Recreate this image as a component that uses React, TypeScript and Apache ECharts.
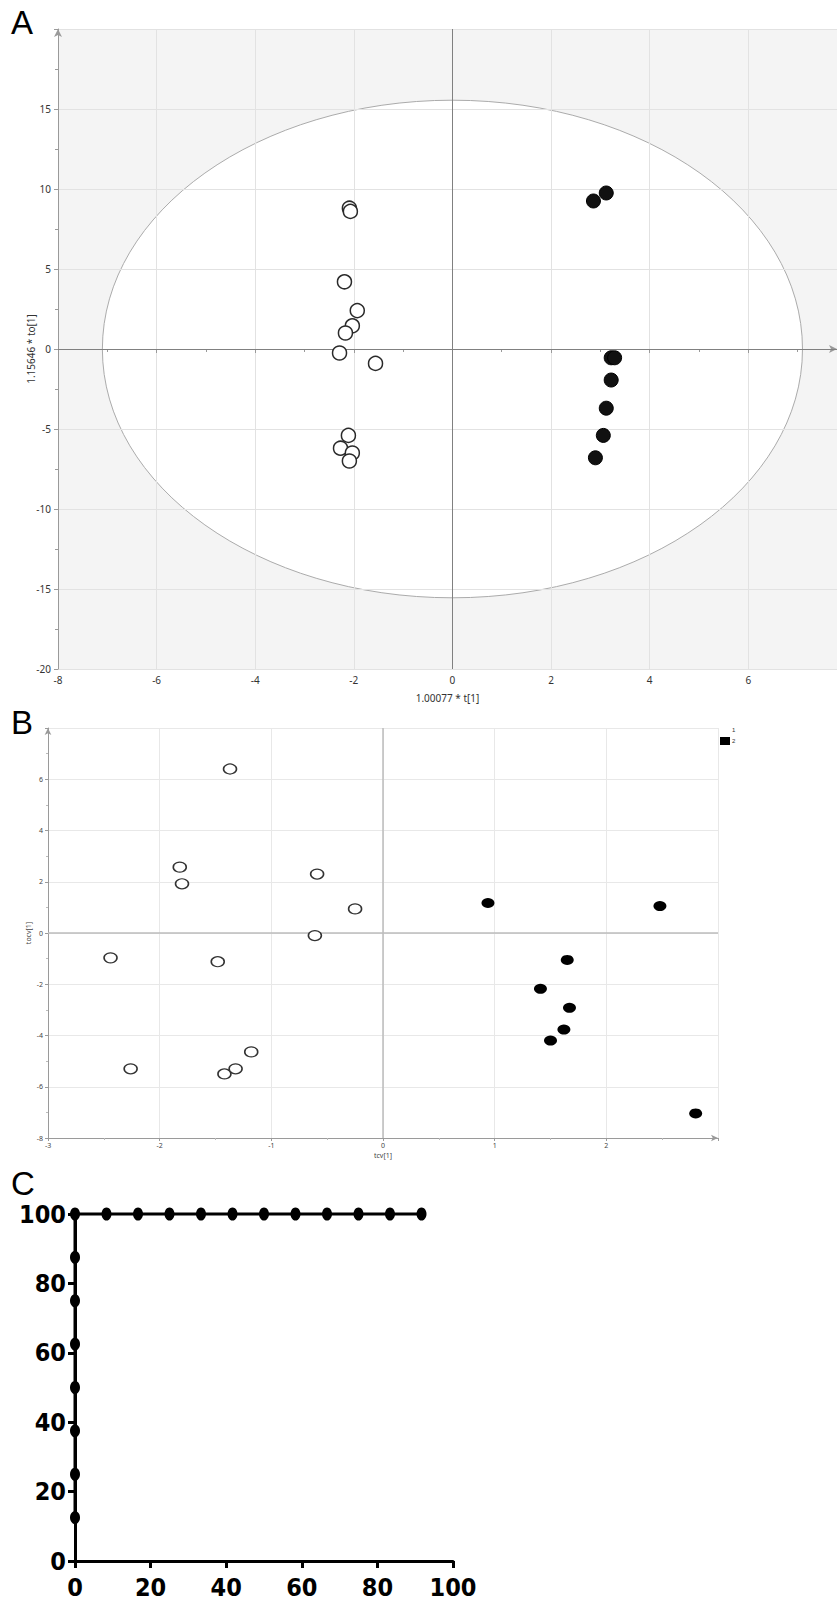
import React, { useEffect, useRef } from 'react';
import * as echarts from 'echarts';

// Panel A: OPLS-DA score plot
const A_OPEN_X = [-2.09, -2.07, -2.19, -1.93, -2.03, -2.17, -2.29, -1.56, -2.11, -2.27, -2.03, -2.09];
const A_OPEN_Y = [8.8, 8.6, 4.2, 2.4, 1.45, 1.0, -0.25, -0.9, -5.4, -6.2, -6.5, -7.0];
const A_FILLED_X = [3.12, 2.86, 3.22, 3.29, 3.22, 3.12, 3.06, 2.9];
const A_FILLED_Y = [9.75, 9.25, -0.55, -0.55, -1.94, -3.7, -5.4, -6.8];
const A_T2_ELLIPSE = [0, 0, 7.1, 15.55]; // centre x, centre y, semi-axis x, semi-axis y
const A_X_NAME = '1.00077 * t[1]';
const A_Y_NAME = '1.15646 * to[1]';

// Panel B: cross-validated score plot
const B_OPEN_X = [-1.37, -1.82, -1.8, -0.59, -0.25, -0.61, -2.44, -1.48, -1.18, -2.26, -1.42, -1.32];
const B_OPEN_Y = [6.4, 2.57, 1.92, 2.3, 0.94, -0.1, -0.97, -1.12, -4.64, -5.3, -5.5, -5.3];
const B_FILLED_X = [0.94, 2.48, 1.65, 1.41, 1.67, 1.62, 1.5, 2.8];
const B_FILLED_Y = [1.17, 1.05, -1.05, -2.18, -2.92, -3.77, -4.2, -7.04];
const B_X_NAME = 'tcv[1]';
const B_Y_NAME = 'tocv[1]';
const B_LEGEND = ['1', '2'];

// Panel C: ROC curve
const C_FPR = [0, 0, 0, 0, 0, 0, 0, 0, 8.33, 16.67, 25, 33.33, 41.67, 50, 58.33, 66.67, 75, 83.33, 91.67];
const C_TPR = [12.5, 25, 37.5, 50, 62.5, 75, 87.5, 100, 100, 100, 100, 100, 100, 100, 100, 100, 100, 100, 100];

const PANEL_LABELS = ['A', 'B', 'C'];

const zip = (xs: number[], ys: number[]) => xs.map((x, i) => [x, ys[i]]);

export default function App() {
  const ref = useRef<HTMLDivElement>(null);

  useEffect(() => {
    if (!ref.current) return;
    const chart = echarts.init(ref.current, undefined, { renderer: 'svg' });

    const labelFont = { fontFamily: 'Noto Sans, DejaVu Sans, sans-serif' };
    const cFont = {
      fontFamily: 'Liberation Sans Narrow, DejaVu Sans Condensed, Arial Narrow, sans-serif',
      fontWeight: 'bold' as const,
      fontSize: 25,
      color: '#000',
    };

    const option: any = {
      animation: false,
      backgroundColor: '#fff',
      grid: [
        { left: 58, top: 29, width: 779, height: 640, show: true, backgroundColor: '#f4f4f4', borderWidth: 0 },
        { left: 48, top: 728, width: 670, height: 410, show: false },
        { left: 75, top: 1214, width: 378, height: 347, show: false },
      ],
      legend: {
        data: [
          { name: B_LEGEND[0], itemStyle: { color: '#fff', borderColor: '#fff', borderWidth: 0 } },
          { name: B_LEGEND[1], itemStyle: { color: '#000', borderColor: '#000' } },
        ],
        icon: 'rect',
        orient: 'vertical',
        left: 720,
        top: 726,
        itemWidth: 10,
        itemHeight: 8,
        itemGap: 3,
        padding: 0,
        selectedMode: false,
        textStyle: { fontSize: 6, color: '#333', padding: [0, 0, 0, -3] },
      },
      xAxis: [
        {
          gridIndex: 0,
          type: 'value',
          min: -8,
          max: 7.8,
          interval: 2,
          z: 2,
          name: A_X_NAME,
          nameLocation: 'middle',
          nameGap: 24,
          nameMoveOverlap: false,
          nameTextStyle: { ...labelFont, fontSize: 10, color: '#333' },
          axisLine: { show: true, lineStyle: { color: '#9a9a9a' }, symbol: ['none', 'arrow'], symbolSize: [6, 8] },
          axisTick: { show: true, length: 4, lineStyle: { color: '#9a9a9a' } },
          minorTick: { show: true, splitNumber: 2, length: 3, lineStyle: { color: '#9a9a9a' } },
          axisLabel: { ...labelFont, fontSize: 10, color: '#333', margin: 6, showMaxLabel: false },
          splitLine: { show: true, lineStyle: { color: '#e2e2e2' } },
        },
        {
          gridIndex: 1,
          type: 'value',
          min: -3,
          max: 3,
          interval: 1,
          z: 2,
          name: B_X_NAME,
          nameLocation: 'middle',
          nameGap: 14,
          nameMoveOverlap: false,
          nameTextStyle: { ...labelFont, fontSize: 7, color: '#444' },
          axisLine: { show: true, onZero: false, lineStyle: { color: '#9a9a9a' }, symbol: ['none', 'arrow'], symbolSize: [5, 7] },
          axisTick: { show: true, length: 3, lineStyle: { color: '#9a9a9a' } },
          minorTick: { show: true, splitNumber: 2, length: 2, lineStyle: { color: '#bbb' } },
          axisLabel: { ...labelFont, fontSize: 7, color: '#444', margin: 4, showMaxLabel: false },
          splitLine: { show: true, lineStyle: { color: '#e8e8e8' } },
        },
        {
          gridIndex: 2,
          type: 'value',
          min: 0,
          max: 100,
          interval: 20,
          axisLine: { show: true, onZero: false, lineStyle: { color: '#000', width: 3 } },
          axisTick: { show: true, length: 7, lineStyle: { color: '#000', width: 3 } },
          axisLabel: { ...cFont, margin: 14 },
          splitLine: { show: false },
        },
      ],
      yAxis: [
        {
          gridIndex: 0,
          type: 'value',
          min: -20,
          max: 20,
          interval: 5,
          z: 2,
          name: A_Y_NAME,
          nameLocation: 'middle',
          nameGap: 22,
          nameMoveOverlap: false,
          nameTextStyle: { ...labelFont, fontSize: 10, color: '#333' },
          axisLine: { show: true, onZero: false, lineStyle: { color: '#9a9a9a' }, symbol: ['none', 'arrow'], symbolSize: [6, 8] },
          axisTick: { show: true, length: 4, lineStyle: { color: '#9a9a9a' } },
          minorTick: { show: true, splitNumber: 2, length: 3, lineStyle: { color: '#9a9a9a' } },
          axisLabel: { ...labelFont, fontSize: 10, color: '#333', margin: 7, showMaxLabel: false },
          splitLine: { show: true, lineStyle: { color: '#e2e2e2' } },
        },
        {
          gridIndex: 1,
          type: 'value',
          min: -8,
          max: 8,
          interval: 2,
          z: 2,
          name: B_Y_NAME,
          nameLocation: 'middle',
          nameGap: 16,
          nameMoveOverlap: false,
          nameTextStyle: { ...labelFont, fontSize: 7, color: '#444' },
          axisLine: { show: true, onZero: false, lineStyle: { color: '#9a9a9a' }, symbol: ['none', 'arrow'], symbolSize: [5, 7] },
          axisTick: { show: true, length: 3, lineStyle: { color: '#9a9a9a' } },
          minorTick: { show: true, splitNumber: 2, length: 2, lineStyle: { color: '#bbb' } },
          axisLabel: { ...labelFont, fontSize: 7, color: '#444', margin: 5, showMaxLabel: false },
          splitLine: { show: true, lineStyle: { color: '#e8e8e8' } },
        },
        {
          gridIndex: 2,
          type: 'value',
          min: 0,
          max: 100,
          interval: 20,
          axisLine: { show: true, onZero: false, lineStyle: { color: '#000', width: 3 } },
          axisTick: { show: true, length: 7, lineStyle: { color: '#000', width: 3 } },
          axisLabel: { ...cFont, margin: 9 },
          splitLine: { show: false },
        },
      ],
      series: [
        {
          type: 'custom',
          name: 'T2',
          xAxisIndex: 0,
          yAxisIndex: 0,
          z: 1,
          silent: true,
          clip: false,
          data: [A_T2_ELLIPSE],
          encode: { x: 0, y: 1 },
          renderItem: (_params: any, api: any) => {
            const c = api.coord([api.value(0), api.value(1)]);
            const s = api.size([api.value(2), api.value(3)]);
            return {
              type: 'ellipse',
              shape: { cx: c[0], cy: c[1], rx: s[0], ry: s[1] },
              style: { fill: '#fff', stroke: '#ababab', lineWidth: 1 },
            };
          },
        },
        {
          type: 'line',
          name: 'zeroA',
          xAxisIndex: 0,
          yAxisIndex: 0,
          z: 3,
          data: [],
          markLine: {
            silent: true,
            symbol: 'none',
            label: { show: false },
            lineStyle: { color: '#808080', width: 1, type: 'solid' },
            data: [{ xAxis: 0 }, { yAxis: 0 }],
          },
        },
        {
          type: 'scatter',
          name: 'A1',
          xAxisIndex: 0,
          yAxisIndex: 0,
          z: 5,
          symbol: 'circle',
          symbolSize: 14,
          itemStyle: { color: '#fff', borderColor: '#2a2a2a', borderWidth: 1.5, opacity: 1 },
          data: zip(A_OPEN_X, A_OPEN_Y),
        },
        {
          type: 'scatter',
          name: 'A2',
          xAxisIndex: 0,
          yAxisIndex: 0,
          z: 5,
          symbol: 'circle',
          symbolSize: 14,
          itemStyle: { color: '#111', borderColor: '#000', borderWidth: 1, opacity: 1 },
          data: zip(A_FILLED_X, A_FILLED_Y),
        },
        {
          type: 'line',
          name: 'zeroB',
          xAxisIndex: 1,
          yAxisIndex: 1,
          z: 3,
          data: [],
          markLine: {
            silent: true,
            symbol: 'none',
            label: { show: false },
            lineStyle: { color: '#bdbdbd', width: 1.5, type: 'solid' },
            data: [{ xAxis: 0 }, { yAxis: 0 }],
          },
        },
        {
          type: 'scatter',
          name: B_LEGEND[0],
          xAxisIndex: 1,
          yAxisIndex: 1,
          z: 5,
          symbol: 'circle',
          symbolSize: [13, 10],
          itemStyle: { color: '#fff', borderColor: '#333', borderWidth: 1.4, opacity: 1 },
          data: zip(B_OPEN_X, B_OPEN_Y),
        },
        {
          type: 'scatter',
          name: B_LEGEND[1],
          xAxisIndex: 1,
          yAxisIndex: 1,
          z: 5,
          symbol: 'circle',
          symbolSize: [13, 10],
          itemStyle: { color: '#000', borderColor: '#000', borderWidth: 0, opacity: 1 },
          data: zip(B_FILLED_X, B_FILLED_Y),
        },
        {
          type: 'line',
          name: 'ROC',
          xAxisIndex: 2,
          yAxisIndex: 2,
          z: 5,
          clip: false,
          symbol: 'circle',
          symbolSize: [10, 13],
          showSymbol: true,
          showAllSymbol: true,
          lineStyle: { color: '#000', width: 3 },
          itemStyle: { color: '#000', borderColor: '#000', borderWidth: 0 },
          data: zip(C_FPR, C_TPR),
        },
      ],
      graphic: [
        { type: 'text', left: 11, top: 6, style: { text: PANEL_LABELS[0], fontSize: 33, fontFamily: 'Liberation Sans, Arial, sans-serif', fill: '#000' } },
        { type: 'text', left: 11, top: 706, style: { text: PANEL_LABELS[1], fontSize: 33, fontFamily: 'Liberation Sans, Arial, sans-serif', fill: '#000' } },
        { type: 'text', left: 11, top: 1167, style: { text: PANEL_LABELS[2], fontSize: 33, fontFamily: 'Liberation Sans, Arial, sans-serif', fill: '#000' } },
      ],
    };

    chart.setOption(option);
    return () => {
      chart.dispose();
    };
  }, []);

  return (
    <div
      ref={ref}
      style={{ position: 'absolute', left: 0, top: 0, width: 837, height: 1607, background: '#fff' }}
    />
  );
}
